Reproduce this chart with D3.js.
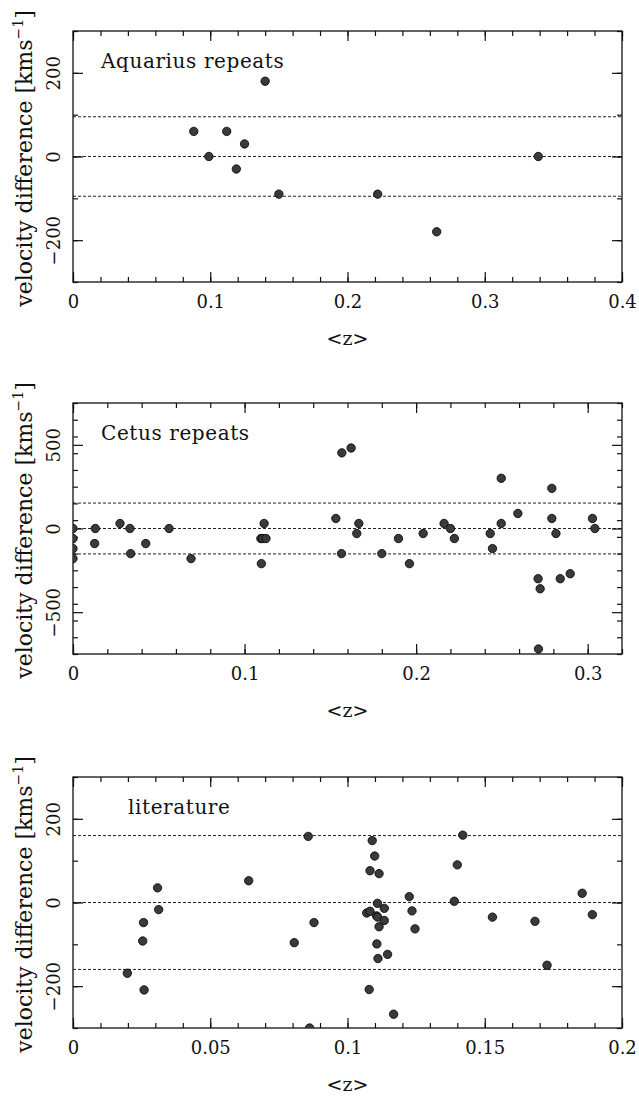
<!DOCTYPE html>
<html lang="en">
<head>
  <meta charset="UTF-8" />
  <title>Velocity differences vs redshift</title>
  <style>
    body {
      margin: 0;
      background: #fff;
    }
    svg text {
      font-family: "DejaVu Serif", "Liberation Serif", serif;
      fill: #111;
    }
    .frame {
      fill: none;
      stroke: #111;
      stroke-width: 1.3px;
    }
    .tick line {
      stroke: #111;
      stroke-width: 1.2px;
    }
    .ref {
      stroke: #222;
      stroke-width: 1px;
      stroke-dasharray: 3,2;
    }
    .dot {
      fill: #3a3a3a;
      stroke: #000;
      stroke-width: 0.8px;
    }
  </style>
  <script src="https://d3js.org/d3.v7.min.js"></script>
</head>
<body>
  <div id="chart"></div>
  <script>
    const width = 639;
    const height = 1097;

    // Aquarius repeats
    const aquariusZ  = [0.088, 0.099, 0.112, 0.125, 0.119, 0.140, 0.150, 0.222, 0.265, 0.339];
    const aquariusDv = [60, 0, 60, 30, -30, 180, -90, -90, -180, 0];

    // Cetus repeats
    const cetusZ = [0, 0, 0, 0, 0.013, 0.0126, 0.0274, 0.0332, 0.0336, 0.0424, 0.056, 0.0688,
      0.1095, 0.1105, 0.1125, 0.1114, 0.1098, 0.1532, 0.1567, 0.1621, 0.1565, 0.1654, 0.1666,
      0.180, 0.1897, 0.1961, 0.2041, 0.2163, 0.220, 0.2223, 0.2432, 0.2445, 0.2496, 0.2496,
      0.2593, 0.2711, 0.2723, 0.2713, 0.2791, 0.2791, 0.2815, 0.284, 0.2898, 0.3028, 0.3042];
    const cetusDv = [0, -60, -120, -180, 0, -90, 30, 0, -150, -90, 0, -180,
      -60, -60, -60, 30, -210, 60, 452, 481, -150, -30, 30,
      -150, -60, -210, -30, 30, 0, -60, -30, -120, 30, 300,
      90, -300, -360, -720, 240, 60, -30, -300, -270, 60, 0];

    // literature
    const litZ = [0.0308, 0.0312, 0.0257, 0.0254, 0.0198, 0.0259, 0.064, 0.0806, 0.0857, 0.0878,
      0.0862, 0.109, 0.1099, 0.1082, 0.1115, 0.1109, 0.1134, 0.107, 0.1082, 0.1106, 0.111,
      0.1134, 0.1115, 0.1107, 0.1146, 0.1111, 0.1079, 0.1168, 0.1225, 0.1235, 0.1246,
      0.142, 0.140, 0.1389, 0.1528, 0.1683, 0.1727, 0.1855, 0.1892];
    const litDv = [35, -17, -48, -92, -169, -209, 52, -96, 158, -48,
      -300, 148, 111, 76, 69, -2, -14, -25, -21, -32, -35,
      -43, -58, -99, -124, -134, -208, -267, 14, -20, -63,
      161, 90, 3, -35, -45, -150, 22, -29];

    // axes and reference lines
    const aquariusXMajor = [0, 0.1, 0.2, 0.3, 0.4];
    const aquariusXLabels = ["0", "0.1", "0.2", "0.3", "0.4"];
    const aquariusYMajor = [-200, 0, 200];
    const aquariusYLabels = ["\u2212200", "0", "200"];
    const aquariusRefs = [-95, 0, 95];

    const cetusXMajor = [0, 0.1, 0.2, 0.3];
    const cetusXLabels = ["0", "0.1", "0.2", "0.3"];
    const cetusYMajor = [-500, 0, 500];
    const cetusYLabels = ["\u2212500", "0", "500"];
    const cetusRefs = [-152, 0, 152];

    const litXMajor = [0, 0.05, 0.1, 0.15, 0.2];
    const litXLabels = ["0", "0.05", "0.1", "0.15", "0.2"];
    const litYMajor = [-200, 0, 200];
    const litYLabels = ["\u2212200", "0", "200"];
    const litRefs = [-160, 0, 160];

    const svg = d3.select("#chart")
      .append("svg")
      .attr("width", width)
      .attr("height", height);

    const left = 73, right = 622;

    function drawPanel(cfg, idx) {
      const x = d3.scaleLinear().domain(cfg.xDomain).range([left, right]);
      const y = d3.scaleLinear().domain(cfg.yDomain).range([cfg.bottom, cfg.top]);
      const g = svg.append("g");

      g.append("clipPath").attr("id", "clip" + idx)
        .append("rect")
        .attr("x", left).attr("y", cfg.top)
        .attr("width", right - left).attr("height", cfg.bottom - cfg.top);

      // dashed reference lines
      g.selectAll(".ref")
        .data(cfg.refs)
        .enter()
        .append("line")
        .attr("class", "ref")
        .attr("x1", left).attr("x2", right)
        .attr("y1", d => y(d)).attr("y2", d => y(d));

      // minor ticks
      const minorX = d3.range(cfg.xDomain[0], cfg.xDomain[1] + 1e-9, cfg.xMinor);
      const minorY = d3.range(cfg.yDomain[0], cfg.yDomain[1] + 1e-9, cfg.yMinor);
      const minorAxes = [
        [d3.axisBottom(x).tickValues(minorX), `translate(0,${cfg.bottom})`],
        [d3.axisTop(x).tickValues(minorX), `translate(0,${cfg.top})`],
        [d3.axisLeft(y).tickValues(minorY), `translate(${left},0)`],
        [d3.axisRight(y).tickValues(minorY), `translate(${right},0)`]
      ];
      minorAxes.forEach(([ax, tr]) => {
        const a = g.append("g").attr("transform", tr)
          .call(ax.tickSize(-5).tickFormat(""));
        a.select(".domain").remove();
      });

      // major ticks
      const xb = g.append("g")
        .attr("transform", `translate(0,${cfg.bottom})`)
        .call(d3.axisBottom(x).tickValues(cfg.xMajor).tickSize(-10).tickPadding(13.5)
          .tickFormat((d, i) => cfg.xLabels[i]));
      xb.select(".domain").remove();
      xb.selectAll("text").style("font-size", "18px").attr("fill", "#111");

      const xt = g.append("g")
        .attr("transform", `translate(0,${cfg.top})`)
        .call(d3.axisTop(x).tickValues(cfg.xMajor).tickSize(-10).tickFormat(""));
      xt.select(".domain").remove();

      const yl = g.append("g")
        .attr("transform", `translate(${left},0)`)
        .call(d3.axisLeft(y).tickValues(cfg.yMajor).tickSize(-10)
          .tickFormat((d, i) => cfg.yLabels[i]));
      yl.select(".domain").remove();
      yl.selectAll("text")
        .style("font-size", "18px")
        .attr("fill", "#111")
        .attr("transform", "rotate(-90)")
        .attr("x", 0)
        .attr("y", -13)
        .attr("dy", 0)
        .attr("text-anchor", "middle");

      const yr = g.append("g")
        .attr("transform", `translate(${right},0)`)
        .call(d3.axisRight(y).tickValues(cfg.yMajor).tickSize(-10).tickFormat(""));
      yr.select(".domain").remove();

      g.append("rect")
        .attr("class", "frame")
        .attr("x", left).attr("y", cfg.top)
        .attr("width", right - left).attr("height", cfg.bottom - cfg.top);

      // points
      g.append("g")
        .attr("clip-path", `url(#clip${idx})`)
        .selectAll("circle")
        .data(cfg.zs.map((z, i) => [z, cfg.dvs[i]]))
        .enter()
        .append("circle")
        .attr("class", "dot")
        .attr("cx", d => x(d[0]))
        .attr("cy", d => y(d[1]))
        .attr("r", 4.2);

      // panel label
      g.append("text")
        .attr("x", cfg.labelX)
        .attr("y", cfg.top + 37)
        .style("font-size", "20px")
        .style("letter-spacing", "0.6px")
        .text(cfg.label);

      // x axis title
      g.append("text")
        .attr("x", (left + right) / 2)
        .attr("y", cfg.bottom + 63)
        .attr("text-anchor", "middle")
        .style("font-size", "19px")
        .text("<z>");

      // y axis title
      const cy = (cfg.top + cfg.bottom) / 2 + 2;
      const t = g.append("text")
        .attr("transform", `translate(32,${cy}) rotate(-90)`)
        .attr("text-anchor", "middle")
        .style("font-size", "22px");
      t.append("tspan").text("velocity difference [kms");
      t.append("tspan").attr("dy", -9).style("font-size", "14px").text("\u22121");
      t.append("tspan").attr("dy", 9).text("]");
    }

    const panels = [
      {
        top: 31, bottom: 282,
        xDomain: [0, 0.4], yDomain: [-300, 300],
        xMinor: 0.02, yMinor: 100,
        xMajor: aquariusXMajor, xLabels: aquariusXLabels,
        yMajor: aquariusYMajor, yLabels: aquariusYLabels,
        refs: aquariusRefs, zs: aquariusZ, dvs: aquariusDv,
        label: "Aquarius repeats", labelX: 101
      },
      {
        top: 403, bottom: 654,
        xDomain: [0, 0.32], yDomain: [-750, 750],
        xMinor: 0.02, yMinor: 100,
        xMajor: cetusXMajor, xLabels: cetusXLabels,
        yMajor: cetusYMajor, yLabels: cetusYLabels,
        refs: cetusRefs, zs: cetusZ, dvs: cetusDv,
        label: "Cetus repeats", labelX: 101
      },
      {
        top: 777, bottom: 1028,
        xDomain: [0, 0.2], yDomain: [-300, 300],
        xMinor: 0.01, yMinor: 100,
        xMajor: litXMajor, xLabels: litXLabels,
        yMajor: litYMajor, yLabels: litYLabels,
        refs: litRefs, zs: litZ, dvs: litDv,
        label: "literature", labelX: 128
      }
    ];

    panels.forEach(drawPanel);
  </script>
</body>
</html>
